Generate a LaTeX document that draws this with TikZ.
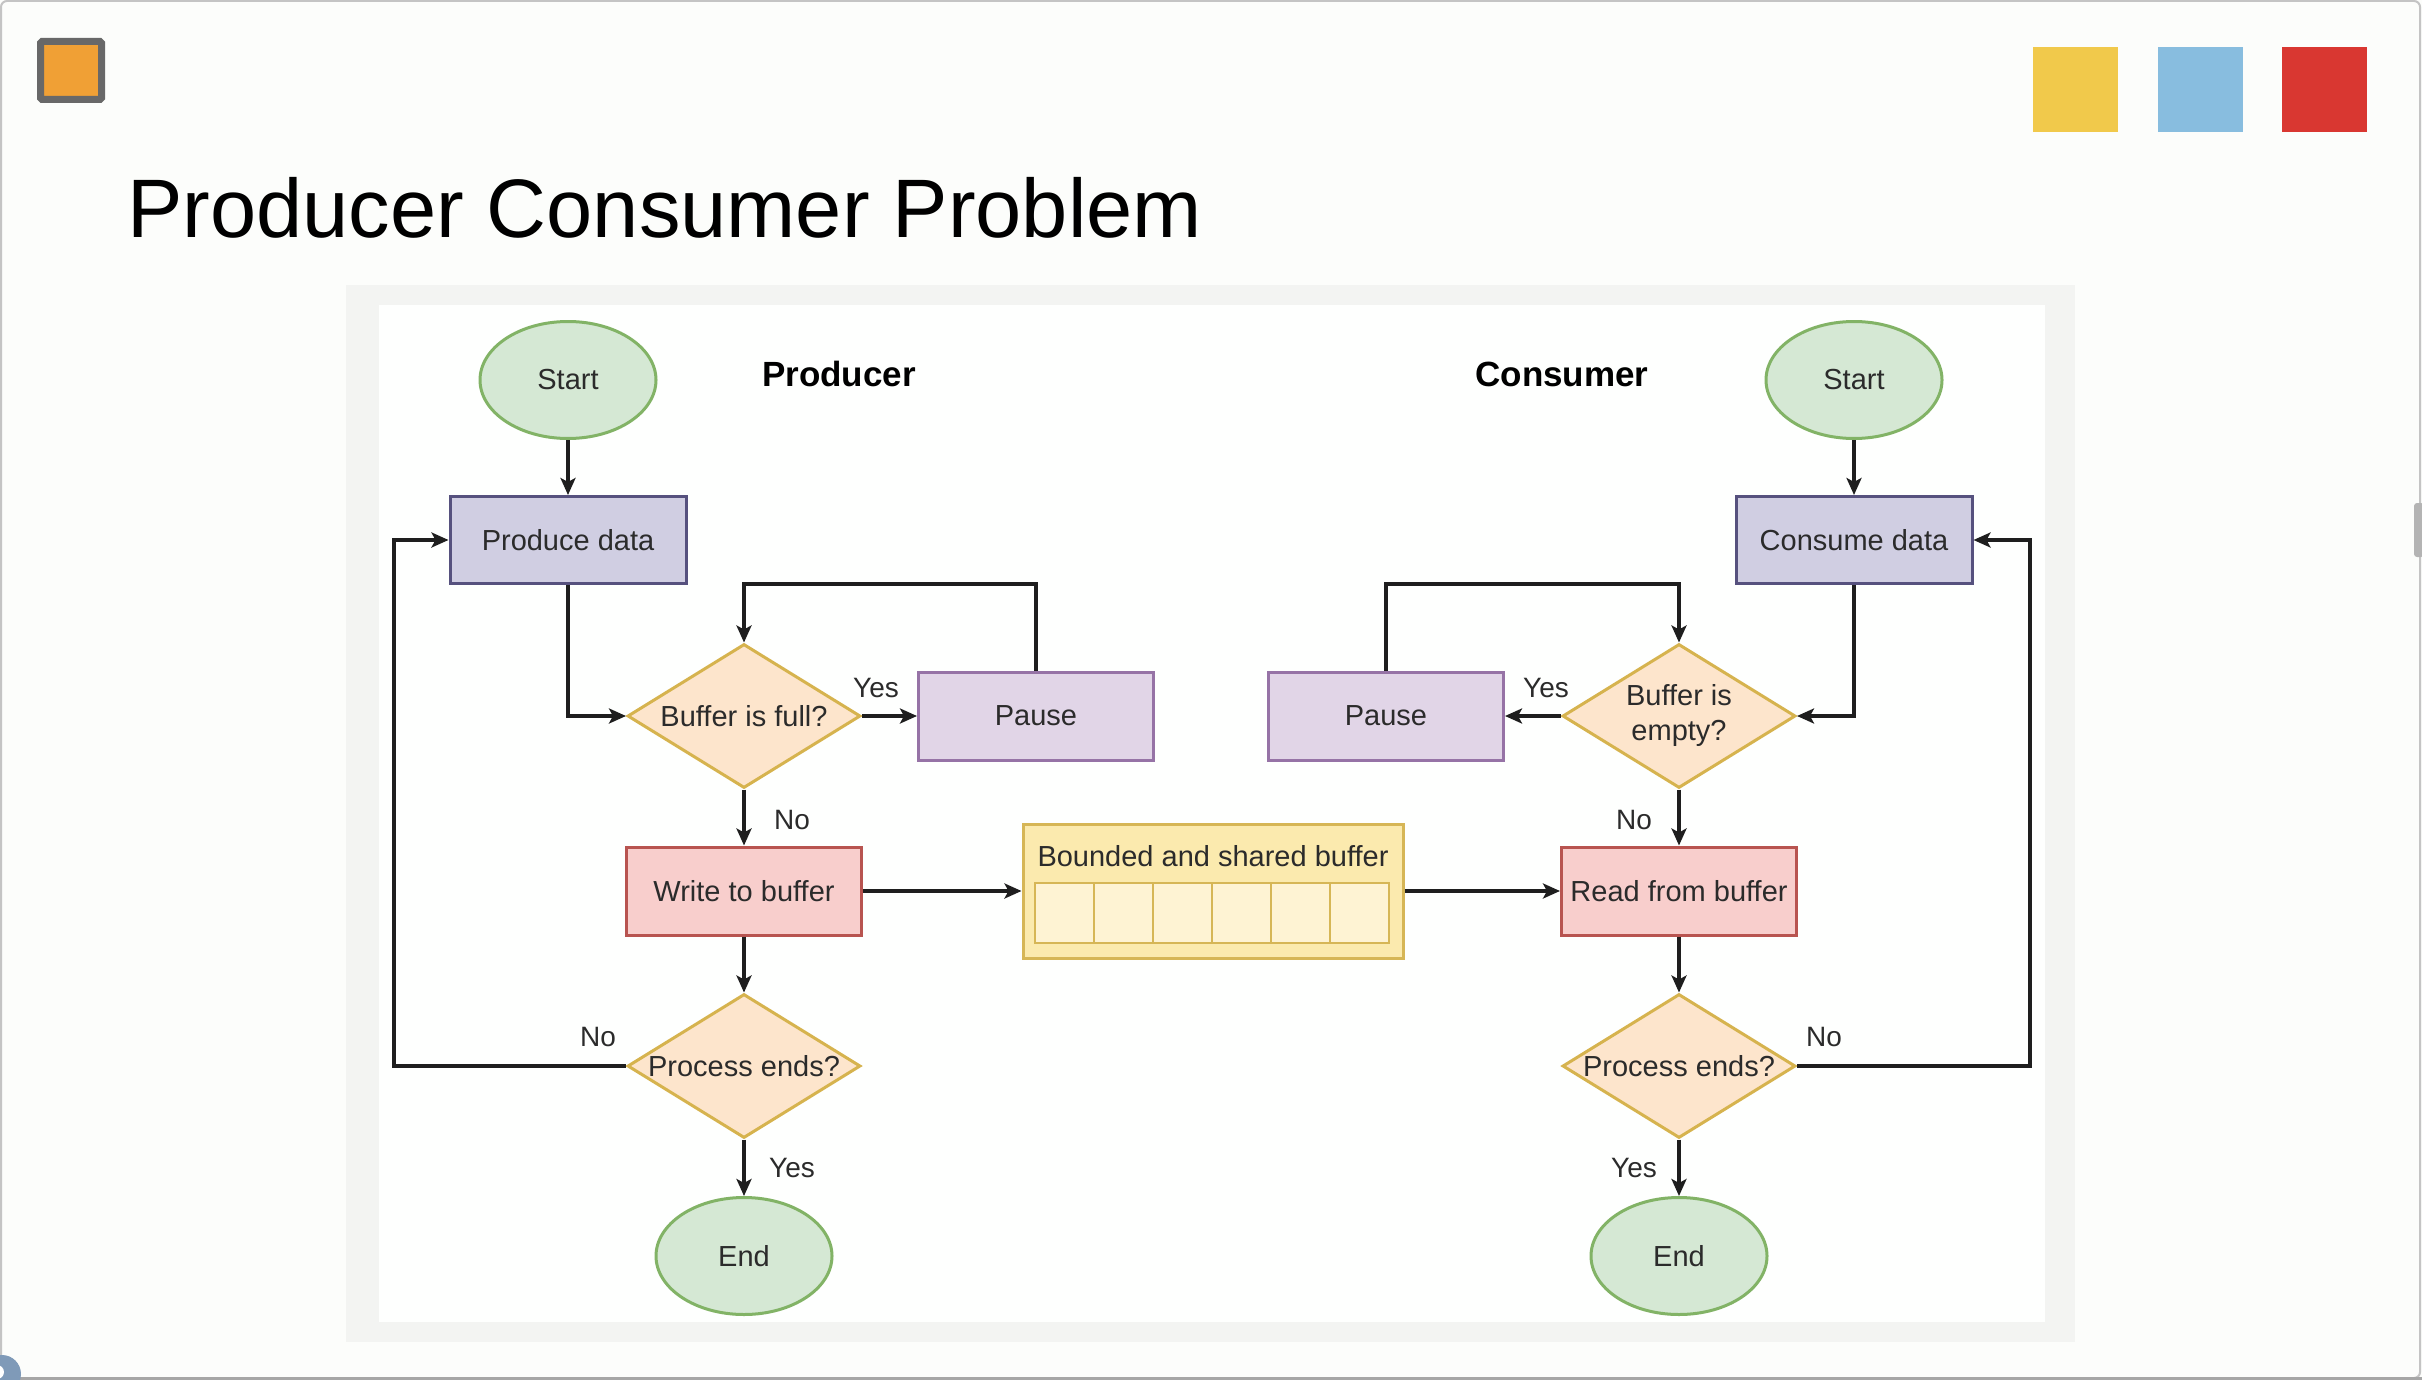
\documentclass[tikz,border=0pt]{standalone}
\usepackage{fontspec}
\setmainfont{Liberation Sans}
\usetikzlibrary{shapes.geometric,arrows.meta,calc}

\definecolor{slidebg}{HTML}{FCFDFB}
\definecolor{panelframe}{HTML}{F3F4F2}
\definecolor{panelbg}{HTML}{FEFFFE}
\definecolor{edgegray}{HTML}{C4C4C4}
\definecolor{txt}{HTML}{2B2B2B}
\definecolor{lineclr}{HTML}{1E1E1E}
\definecolor{grfill}{HTML}{D5E8D4}
\definecolor{grline}{HTML}{82B366}
\definecolor{bluefill}{HTML}{D0CEE2}
\definecolor{blueline}{HTML}{56517E}
\definecolor{purfill}{HTML}{E1D5E7}
\definecolor{purline}{HTML}{9673A6}
\definecolor{decfill}{HTML}{FDE5CC}
\definecolor{decline}{HTML}{D6B34E}
\definecolor{redfill}{HTML}{F8CECC}
\definecolor{redline}{HTML}{B85450}
\definecolor{buffill}{HTML}{FBEAAE}
\definecolor{cellfill}{HTML}{FEF3D3}
\definecolor{bufline}{HTML}{D6B656}
\definecolor{orangesq}{HTML}{F0A035}
\definecolor{orangeedge}{HTML}{686868}
\definecolor{sqyellow}{HTML}{F1C94B}
\definecolor{sqblue}{HTML}{88BDDF}
\definecolor{sqred}{HTML}{D93731}
\definecolor{ringc}{HTML}{7F9AB8}
\definecolor{scrollc}{HTML}{B4B4B4}

\begin{document}
\begin{tikzpicture}[x=1pt,y=-1pt,
  every node/.style={font=\fontsize{29}{36}\selectfont, text=txt},
  base/.style={draw, line width=3pt, inner sep=0pt},
  term/.style={base, ellipse, fill=grfill, draw=grline,
    minimum width=176pt, minimum height=117pt},
  datbox/.style={base, rectangle, fill=bluefill, draw=blueline,
    minimum width=236pt, minimum height=87pt},
  pausebox/.style={base, rectangle, fill=purfill, draw=purline,
    minimum width=235pt, minimum height=88pt},
  bufop/.style={base, rectangle, fill=redfill, draw=redline,
    minimum width=235pt, minimum height=88pt},
  decide/.style={base, diamond, fill=decfill, draw=decline,
    minimum width=233pt, minimum height=144pt, shape aspect=1.62},
  bufbox/.style={base, rectangle, fill=buffill, draw=bufline,
    minimum width=380pt, minimum height=134pt},
  cellbox/.style={draw=bufline, line width=2.5pt, fill=cellfill,
    inner sep=0pt, minimum width=59pt, minimum height=60pt},
  hdr/.style={font=\fontsize{35}{42}\selectfont\bfseries, text=black},
  tag/.style={font=\fontsize{28}{34}\selectfont},
  conn/.style={line width=3.2pt, draw=lineclr,
    -{Stealth[length=17pt,width=15pt,inset=4pt]}}
]
\useasboundingbox (0,0) rectangle (2422,1380);

% slide background and window edges
\fill[slidebg] (0,0) rectangle (2422,1380);
\draw[edgegray, line width=2pt, rounded corners=6pt] (1,1) rectangle (2420,1378);
\draw[gray!70, line width=3pt] (0,1378.5) -- (2422,1378.5);
\fill[scrollc, rounded corners=3pt] (2414,503) rectangle (2424,557);
\fill[ringc] (2,1374) circle (19);
\fill[white] (-3,1372) circle (7);

% decorative squares
\draw[orangeedge, fill=orangesq, line width=7pt, rounded corners=1.5pt]
  (40.5,41.5) rectangle (101.5,99.5);
\fill[sqyellow] (2033,47) rectangle (2118,132);
\fill[sqblue] (2158,47) rectangle (2243,132);
\fill[sqred] (2282,47) rectangle (2367,132);

% title
\node[anchor=base west, inner sep=0pt, text=black,
  font=\fontsize{83}{99}\selectfont] (title) at (127,238)
  {Producer Consumer Problem};

% diagram panel
\fill[panelframe] (346,285) rectangle (2075,1342);
\fill[panelbg] (379,305) rectangle (2045,1322);

% ---------------- producer side ----------------
\node[term] (ps) at (568,380) {Start};
\node[hdr] (phdr) at (839,374) {Producer};
\node[datbox] (pd) at (568,540) {Produce data};
\node[decide] (d1) at (744,716) {\makebox[0pt]{Buffer is full?}};
\node[pausebox] (pp) at (1036,716) {Pause};
\node[bufop] (wb) at (744,891) {Write to buffer};
\node[decide] (pe) at (744,1066) {\makebox[0pt]{Process ends?}};
\node[term] (pend) at (744,1256) {End};

% ---------------- shared buffer ----------------
\node[bufbox] (buf) at (1213,891) {};
\node (buft) at (1213,856) {Bounded and shared buffer};
\foreach \i in {0,...,5}
  \node[cellbox] (cell\i) at ({1035+29.5+59*\i},913) {};

% ---------------- consumer side ----------------
\node[term] (cs) at (1854,380) {Start};
\node[hdr] (chdr) at (1562,374) {Consumer};
\node[datbox] (cd) at (1854,540) {Consume data};
\node[decide] (d2) at (1679,716)
  {\makebox[0pt]{\begin{tabular}{@{}c@{}}Buffer is\\[-1pt]empty?\end{tabular}}};
\node[pausebox] (cp) at (1386,716) {Pause};
\node[bufop] (rb) at (1679,891) {Read from buffer};
\node[decide] (ce) at (1679,1066) {\makebox[0pt]{Process ends?}};
\node[term] (cend) at (1679,1256) {End};

% loop corner points
\coordinate (pwait) at (744,584);
\coordinate (pback) at (394,1066);
\coordinate (cwait) at (1679,584);
\coordinate (cback) at (2030,1066);

% producer connectors
\draw[conn] (ps.south) -- (pd.north);
\draw[conn] (pd.south) |- (d1.west);
\draw[conn] (d1.east) -- (pp.west);
\draw[conn] (pp.north) |- (pwait) -- (d1.north);
\draw[conn] (d1.south) -- (wb.north);
\draw[conn] (wb.east) -- (buf.west);
\draw[conn] (wb.south) -- (pe.north);
\draw[conn] (pe.west) -- (pback) |- (pd.west);
\draw[conn] (pe.south) -- (pend.north);

% consumer connectors
\draw[conn] (cs.south) -- (cd.north);
\draw[conn] (cd.south) |- (d2.east);
\draw[conn] (d2.west) -- (cp.east);
\draw[conn] (cp.north) |- (cwait) -- (d2.north);
\draw[conn] (d2.south) -- (rb.north);
\draw[conn] (buf.east) -- (rb.west);
\draw[conn] (rb.south) -- (ce.north);
\draw[conn] (ce.east) -- (cback) |- (cd.east);
\draw[conn] (ce.south) -- (cend.north);

% branch labels
\node[tag] (y1) at (876,688) {Yes};
\node[tag] (n1) at (792,820) {No};
\node[tag] (n2) at (598,1037) {No};
\node[tag] (y2) at (792,1168) {Yes};
\node[tag] (y3) at (1546,688) {Yes};
\node[tag] (n3) at (1634,820) {No};
\node[tag] (n4) at (1824,1037) {No};
\node[tag] (y4) at (1634,1168) {Yes};
\end{tikzpicture}
\end{document}
